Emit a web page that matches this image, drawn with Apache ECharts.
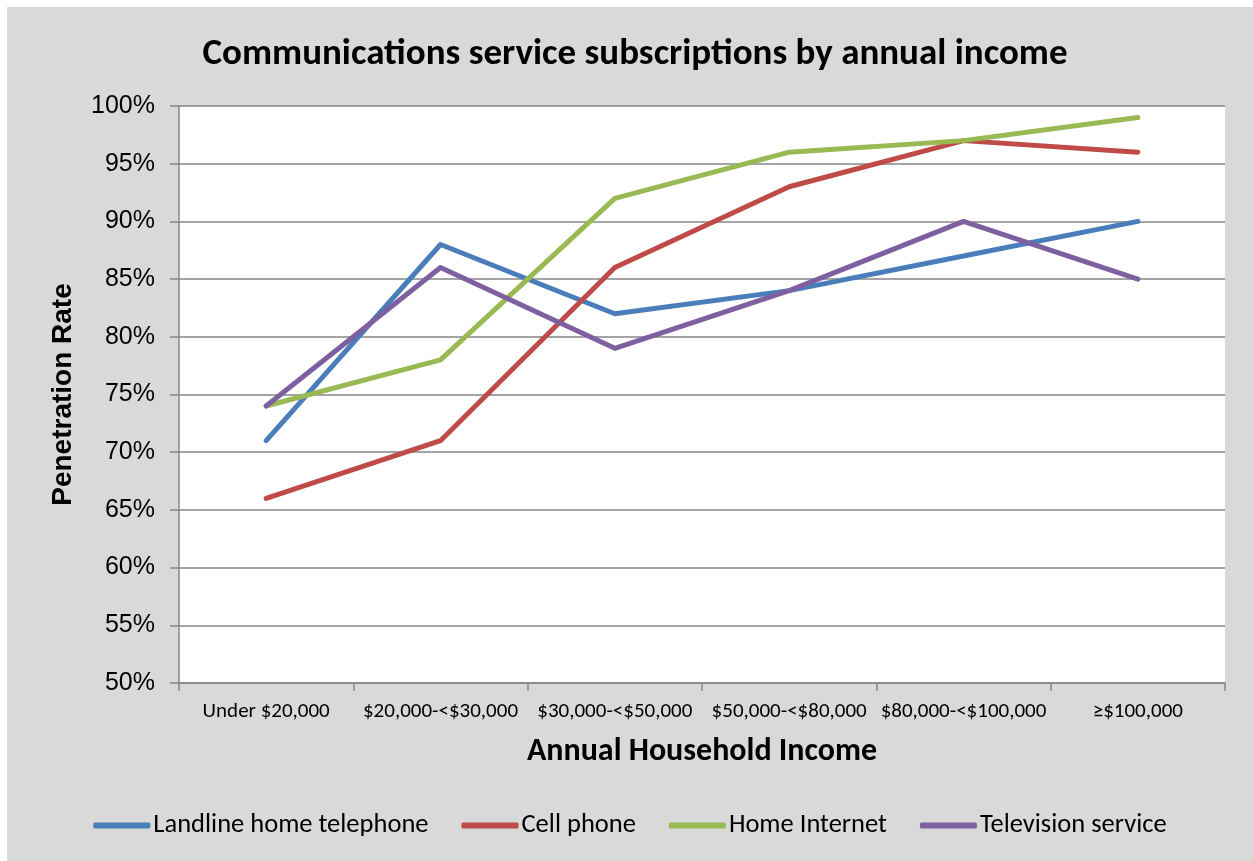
<!DOCTYPE html>
<html>
<head>
<meta charset="utf-8">
<script src="https://cdn.jsdelivr.net/npm/echarts@6/dist/echarts.min.js"></script>
<style>
  html, body { margin: 0; padding: 0; background: #ffffff; }
  #chart { position: absolute; left: 7px; top: 7px; width: 1246px; height: 854px; }
</style>
</head>
<body>
<div id="chart"></div>
<script>
// Income brackets along the x axis
const categories = ['Under $20,000', '$20,000-<$30,000', '$30,000-<$50,000', '$50,000-<$80,000', '$80,000-<$100,000', '\u2265$100,000'];

// Penetration rates (%) per service
const landline = [71, 88, 82, 84, 87, 90];
const cellPhone = [66, 71, 86, 93, 97, 96];
const homeInternet = [74, 78, 92, 96, 97, 99];
const television = [74, 86, 79, 84, 90, 85];

const seriesNames = ['Landline home telephone', 'Cell phone', 'Home Internet', 'Television service'];
const seriesColors = ['#4a7ebb', '#be4b48', '#98b954', '#7d60a0'];
const seriesData = [landline, cellPhone, homeInternet, television];

const calibri = 'Carlito, Lato, "Open Sans", sans-serif';
const arial = '"Liberation Sans", Arial, sans-serif';

const chart = echarts.init(document.getElementById('chart'));
chart.setOption({
  backgroundColor: '#d9d9d9',
  animation: false,
  title: {
    text: 'Communications service subscriptions by annual income',
    left: 623,
    top: 24,
    textAlign: 'center',
    textStyle: { fontFamily: calibri, fontWeight: 'bold', fontSize: 37, color: '#000' }
  },
  legend: {
    bottom: 17,
    left: 'center',
    icon: 'roundRect',
    itemWidth: 57,
    itemHeight: 6,
    itemGap: 33,
    textStyle: { fontFamily: calibri, fontSize: 26.5, color: '#000', padding: [0, 0, 0, -2] },
    data: seriesNames
  },
  grid: { left: 172, right: 28, top: 99, bottom: 178, backgroundColor: '#ffffff', show: true, borderWidth: 0 },
  xAxis: {
    type: 'category',
    data: categories,
    boundaryGap: true,
    name: 'Annual Household Income',
    nameLocation: 'middle',
    nameGap: 53,
    nameTextStyle: { fontFamily: calibri, fontWeight: 'bold', fontSize: 32, color: '#000' },
    axisLine: { lineStyle: { color: '#868686', width: 1.5 } },
    axisTick: { show: true, length: 8, interval: 0, lineStyle: { color: '#868686', width: 1.5 } },
    axisLabel: { margin: 18, interval: 0, fontFamily: calibri, fontSize: 21, color: '#000' }
  },
  yAxis: {
    type: 'value',
    min: 50,
    max: 100,
    interval: 5,
    name: 'Penetration Rate',
    nameLocation: 'middle',
    nameGap: 102,
    nameTextStyle: { fontFamily: arial, fontWeight: 'bold', fontSize: 28, color: '#000' },
    axisLine: { show: true, lineStyle: { color: '#868686', width: 1.5 } },
    axisTick: { show: true, length: 9, lineStyle: { color: '#868686', width: 1.5 } },
    axisLabel: { margin: 24, fontFamily: arial, fontSize: 25, color: '#000', formatter: '{value}%' },
    splitLine: { lineStyle: { color: '#868686', width: 1.5 } }
  },
  series: seriesNames.map((name, i) => ({
    name: name,
    type: 'line',
    data: seriesData[i],
    showSymbol: false,
    symbol: 'none',
    color: seriesColors[i],
    lineStyle: { width: 5, color: seriesColors[i], cap: 'round', join: 'round' }
  }))
});
</script>
</body>
</html>
